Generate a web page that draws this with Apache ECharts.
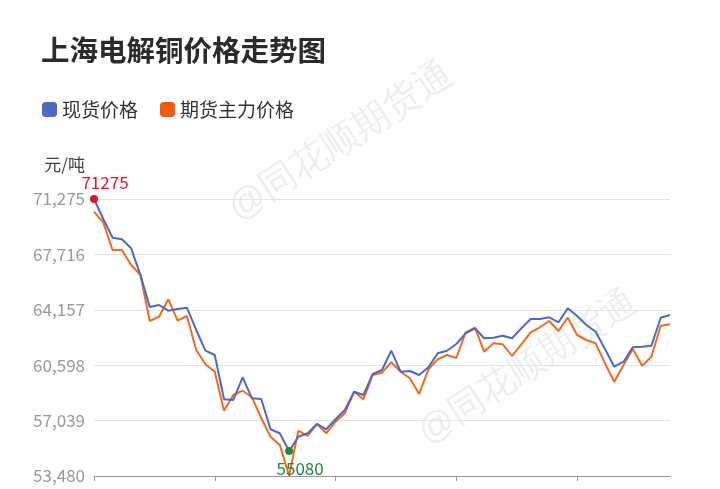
<!DOCTYPE html>
<html>
<head>
<meta charset="utf-8">
<script src="https://cdn.jsdelivr.net/npm/echarts@6/dist/echarts.min.js"></script>
<style>
  html, body { margin: 0; padding: 0; background: #fff; }
  #chart { width: 720px; height: 489px; }
</style>
</head>
<body>
<div id="chart"></div>
<script>
// 日期序号（图上没有日期文字）
var days = [];
for (var i = 0; i < 63; i++) { days.push(i); }

// 现货价格
var spotPrice = [71275, 69990, 68789, 68686, 68108, 66393, 64337, 64466, 64099, 64209,
  64292, 62860, 61530, 61254, 58408, 58363, 59821, 58472, 58427, 56481,
  56224, 55080, 56005, 56224, 56821, 56481, 57123, 57720, 58896, 58684,
  60033, 60290, 61530, 60181, 60226, 59968, 60463, 61363, 61530, 61960,
  62648, 62969, 62326, 62365, 62493, 62326, 62969, 63566, 63566, 63675,
  63354, 64253, 63759, 63181, 62750, 61639, 60502, 60823, 61748, 61787,
  61851, 63650, 63823];

// 期货主力价格
var futuresPrice = [70459, 69753, 68001, 68001, 67035, 66393, 63438, 63714, 64832, 63457,
  63759, 61575, 60656, 60181, 57675, 58684, 58960, 58536, 57206, 56005,
  55472, 53500, 56391, 56050, 56821, 56224, 56969, 57508, 58896, 58408,
  59968, 60117, 60785, 60181, 59757, 58748, 60335, 60978, 61254, 61061,
  62712, 63007, 61466, 62005, 61941, 61189, 61941, 62712, 63033, 63438,
  62795, 63650, 62538, 62217, 62005, 60720, 59538, 60611, 61639, 60566,
  61144, 63136, 63225];

var myChart = echarts.init(document.getElementById('chart'));

var option = {
    backgroundColor: '#fff',
    animation: false,
    textStyle: { fontFamily: '"Noto Sans CJK SC", "Noto Sans", sans-serif' },
    title: {
        text: '上海电解铜价格走势图',
        left: 36,
        top: 31,
        textStyle: { fontSize: 28.5, fontWeight: 'bold', color: '#2b2b2b' }
    },
    legend: {
        data: ['现货价格', '期货主力价格'],
        left: 37,
        top: 95,
        icon: 'roundRect',
        itemWidth: 15,
        itemHeight: 15,
        itemGap: 22,
        textStyle: { fontSize: 19, color: '#333' }
    },
    graphic: [
        {
            type: 'text', left: 222, top: 56, rotation: Math.PI / 180 * 33, z: 0,
            style: { text: '@同花顺期货通', fontSize: 37, fill: 'rgba(0,0,0,0.07)' }
        },
        {
            type: 'text', left: 412, top: 284, rotation: Math.PI / 180 * 33, z: 0,
            style: { text: '@同花顺期货通', fontSize: 36, fill: 'rgba(0,0,0,0.07)' }
        }
    ],
    grid: {
        left: 94,
        right: 50,
        top: 199,
        bottom: 13
    },
    xAxis: {
        type: 'category',
        boundaryGap: false,
        data: days,
        axisLine: { lineStyle: { color: '#999' } },
        axisTick: { interval: 12, length: 5, lineStyle: { color: '#999' } },
        axisLabel: { show: false }
    },
    yAxis: {
        type: 'value',
        name: '元/吨',
        nameGap: 26,
        nameTextStyle: { fontSize: 17, color: '#444', align: 'right', padding: [0, 9, 0, 0] },
        min: 53480,
        max: 71275,
        interval: 3559,
        axisLine: { show: false },
        axisTick: { show: false },
        axisLabel: { fontSize: 17, color: '#999', margin: 9 },
        splitLine: { lineStyle: { color: '#e3e3e3' } }
    },
    series: [
        {
            name: '现货价格',
            type: 'line',
            data: spotPrice,
            showSymbol: false,
            z: 3,
            lineStyle: { width: 2, color: '#4d69c6' },
            itemStyle: { color: '#4d69c6' },
            markPoint: {
                symbol: 'circle',
                symbolSize: 8,
                data: [
                    {
                        type: 'max',
                        itemStyle: { color: '#f0102a' },
                        label: { position: 'top', distance: 4, offset: [11, 0], color: '#f0102a', fontSize: 17 }
                    },
                    {
                        type: 'min',
                        itemStyle: { color: '#1f8a3a' },
                        label: { position: 'bottom', distance: 5, offset: [11, 0], color: '#1f8a3a', fontSize: 17 }
                    }
                ]
            }
        },
        {
            name: '期货主力价格',
            type: 'line',
            data: futuresPrice,
            showSymbol: false,
            z: 2,
            lineStyle: { width: 2, color: '#f26a1c' },
            itemStyle: { color: '#f65a0a' }
        }
    ]
};

myChart.setOption(option);
</script>
</body>
</html>
